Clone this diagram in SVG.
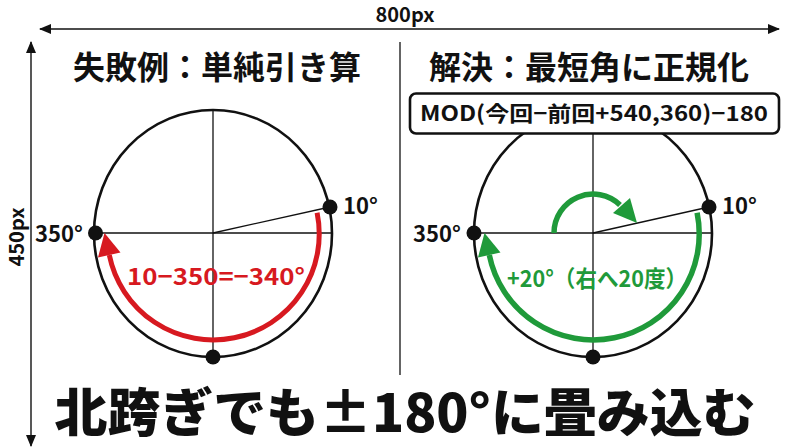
<svg xmlns="http://www.w3.org/2000/svg" width="800" height="447" viewBox="0 0 800 447">
<style>
.t{font-family:"Noto Sans CJK JP","Noto Sans",sans-serif;font-weight:700;fill:#111}
.fw{font-variant-east-asian:full-width}
.circ{fill:none;stroke:#111;stroke-width:2.6}
.axis{stroke:#111;stroke-width:1.3}
.dim{stroke:#111;stroke-width:1.4;fill:none}
.dot{fill:#111}
.red{fill:none;stroke:#d71920;stroke-width:5}
.grn{fill:none;stroke:#1f9a3a;stroke-width:5.5}
</style>
<defs>
<marker id="ah" viewBox="0 0 12 10" refX="11" refY="5" markerWidth="12" markerHeight="10" markerUnits="userSpaceOnUse" orient="auto">
<path d="M0,0 L12,5 L0,10 Z" fill="#111"/>
</marker>
</defs>
<rect width="800" height="447" fill="#fff"/>

<g id="dimensions">
<line class="dim" x1="400" y1="29" x2="779" y2="29" marker-end="url(#ah)"/>
<line class="dim" x1="400" y1="29" x2="40" y2="29" marker-end="url(#ah)"/>
<line class="dim" x1="31" y1="240" x2="31" y2="42" marker-end="url(#ah)"/>
<line class="dim" x1="31" y1="240" x2="31" y2="446" marker-end="url(#ah)"/>
<text class="t" x="405" y="22" font-size="20" text-anchor="middle">800px</text>
<text class="t" font-size="20" text-anchor="middle" transform="translate(24,237) rotate(-90)">450px</text>
</g>

<line id="divider" x1="400" y1="42" x2="400" y2="375" stroke="#111" stroke-width="1.3"/>

<g id="left-panel">
<text class="t" x="217" y="79" font-size="32" text-anchor="middle">失敗例：単純引き算</text>
<ellipse class="circ" cx="213" cy="233.5" rx="119" ry="123.5"/>
<line class="axis" x1="95" y1="233" x2="332" y2="233"/>
<line class="axis" x1="213" y1="110" x2="213" y2="357"/>
<line class="axis" x1="213" y1="233" x2="330" y2="207"/>
</g>

<g id="right-panel">
<text class="t" x="589" y="79" font-size="32" text-anchor="middle">解決：最短角に正規化</text>
<ellipse class="circ" cx="593" cy="233.5" rx="119" ry="123.5"/>
<line class="axis" x1="474" y1="233" x2="712" y2="233"/>
<line class="axis" x1="593" y1="110" x2="593" y2="357"/>
<line class="axis" x1="593" y1="233" x2="709" y2="207"/>
</g>

<g id="formula-box">
<rect x="410" y="93.5" width="369" height="40" rx="6" fill="#fff" stroke="#111" stroke-width="2.6"/>
<text class="t" x="594" y="121" font-size="21" text-anchor="middle" textLength="348" lengthAdjust="spacingAndGlyphs">MOD(今回<tspan class="fw">−</tspan>前回+540,360)<tspan class="fw">−</tspan>180</text>
</g>

<g id="connectors">
<path class="red" d="M317.1,212.8 A106,106 0 0 1 109.3,255"/>
<polygon points="104.5,233 98,257.5 120.5,252.5" fill="#d71920"/>
<path class="grn" d="M697.1,212.8 A106,106 0 0 1 489.3,255"/>
<polygon points="484.5,233 478,257.5 500.5,252.5" fill="#1f9a3a"/>
<path class="grn" stroke-width="6" d="M554,233 A39,39 0 0 1 620,205"/>
<polygon points="637,223 613,213 630,198" fill="#1f9a3a"/>
</g>

<g id="left-points">
<circle class="dot" cx="330" cy="207" r="7.5"/>
<circle class="dot" cx="95.5" cy="233" r="7.5"/>
<circle class="dot" cx="213" cy="357" r="7.5"/>
<text class="t" x="343" y="214" font-size="22">10°</text>
<text class="t" x="35" y="242" font-size="22">350°</text>
<text class="t" x="216" y="285" font-size="23" text-anchor="middle" style="fill:#d71920" textLength="178" lengthAdjust="spacingAndGlyphs">10<tspan class="fw">−</tspan>350=<tspan class="fw">−</tspan>340°</text>
</g>

<g id="right-points">
<circle class="dot" cx="709" cy="207" r="7.5"/>
<circle class="dot" cx="474" cy="233" r="7.5"/>
<circle class="dot" cx="593" cy="357" r="7.5"/>
<text class="t" x="722" y="214" font-size="22">10°</text>
<text class="t" x="413" y="242" font-size="22">350°</text>
<text class="t" x="597" y="287" font-size="23" text-anchor="middle" style="fill:#1f9a3a" textLength="180" lengthAdjust="spacingAndGlyphs">+20°（右へ20度）</text>
</g>

<g id="caption">
<text class="t" x="405" y="432" font-size="52" style="font-weight:900" text-anchor="middle" textLength="701" lengthAdjust="spacingAndGlyphs">北跨ぎでも±180°に畳み込む</text>
</g>
</svg>
